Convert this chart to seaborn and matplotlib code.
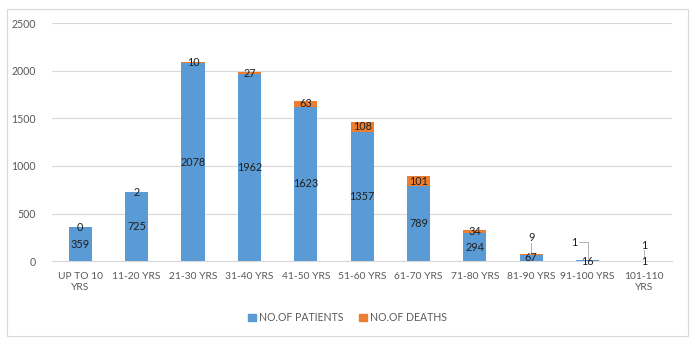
import matplotlib
matplotlib.use("Agg")
import matplotlib.pyplot as plt
import seaborn as sns
import pandas as pd
from matplotlib.patches import Rectangle, Patch

categories = ["UP TO 10\nYRS", "11-20 YRS", "21-30 YRS", "31-40 YRS", "41-50 YRS",
              "51-60 YRS", "61-70 YRS", "71-80 YRS", "81-90 YRS", "91-100 YRS", "101-110\nYRS"]
patients = [359, 725, 2078, 1962, 1623, 1357, 789, 294, 67, 16, 1]
deaths = [0, 2, 10, 27, 63, 108, 101, 34, 9, 1, 1]

BLUE = "#5B9BD5"
ORANGE = "#ED7D31"
TXT = "#595959"
LBL = "#1F1F1F"

sns.set_theme(style="white")
plt.rcParams["font.family"] = ["Lato", "DejaVu Sans"]

df = pd.DataFrame({"cat": categories, "patients": patients, "deaths": deaths})
df["total"] = df["patients"] + df["deaths"]

fig = plt.figure(figsize=(6.95, 3.45), dpi=100)
ax = fig.add_axes([0.075, 0.243, 0.892, 0.69])

bw = 0.41
sns.barplot(data=df, x="cat", y="total", color=ORANGE, width=bw, ax=ax, saturation=1,
            linewidth=0, edgecolor="none", zorder=2)
sns.barplot(data=df, x="cat", y="patients", color=BLUE, width=bw, ax=ax, saturation=1,
            linewidth=0, edgecolor="none", zorder=3)

ax.set_ylim(0, 2500)
ax.set_yticks(range(0, 2501, 500))
ax.set_xlim(-0.5, len(categories) - 0.5)
ax.set_xlabel("")
ax.set_ylabel("")
ax.grid(axis="y", color="#D9D9D9", linewidth=0.8, zorder=0)
ax.set_axisbelow(True)
for s in ["top", "right", "left"]:
    ax.spines[s].set_visible(False)
ax.spines["bottom"].set_color("#D9D9D9")
ax.spines["bottom"].set_linewidth(0.8)
ax.tick_params(axis="x", length=0, labelsize=7.4, colors=TXT, pad=8)
ax.tick_params(axis="y", length=0, labelsize=7.6, colors=TXT, pad=12)

fs = 7.8
for i, p in enumerate(patients):
    y = p / 2 if p > 40 else p / 2 - 8
    ax.text(i, y, str(p), ha="center", va="center", fontsize=fs, color=LBL, zorder=5)

for i, (p, d) in enumerate(zip(patients, deaths)):
    if i == 8:
        ax.text(i, 250, str(d), ha="center", va="center", fontsize=fs, color=LBL, zorder=5)
        ax.plot([i, i], [90, 195], color="#A6A6A6", lw=0.6, zorder=4)
    elif i == 9:
        ax.text(i - 0.24, 200, str(d), ha="center", va="center", fontsize=fs, color=LBL, zorder=5)
        ax.plot([i - 0.16, i, i], [200, 200, 20], color="#A6A6A6", lw=0.6, zorder=4)
    elif i == 10:
        ax.text(i, 165, str(d), ha="center", va="center", fontsize=fs, color=LBL, zorder=5)
        ax.plot([i, i], [30, 115], color="#A6A6A6", lw=0.6, zorder=4)
    elif i == 0:
        ax.text(i, p - 10, str(d), ha="center", va="center", fontsize=fs, color=LBL, zorder=5)
    else:
        ax.text(i, p + d / 2, str(d), ha="center", va="center", fontsize=fs, color=LBL, zorder=5)

handles = [Patch(color=BLUE, label="NO.OF PATIENTS"), Patch(color=ORANGE, label="NO.OF DEATHS")]
leg = fig.legend(handles=handles, loc="center", bbox_to_anchor=(0.5, 0.08), ncol=2,
                 frameon=False, fontsize=7.6, handlelength=0.7, handleheight=0.7,
                 handletextpad=0.3, columnspacing=1.5)
for t in leg.get_texts():
    t.set_color(TXT)

fig.patches.append(Rectangle((0.010, 0.026), 0.980, 0.948, transform=fig.transFigure,
                             fill=False, edgecolor="#D9D9D9", linewidth=0.8))

fig.savefig("out.png", dpi=100)
